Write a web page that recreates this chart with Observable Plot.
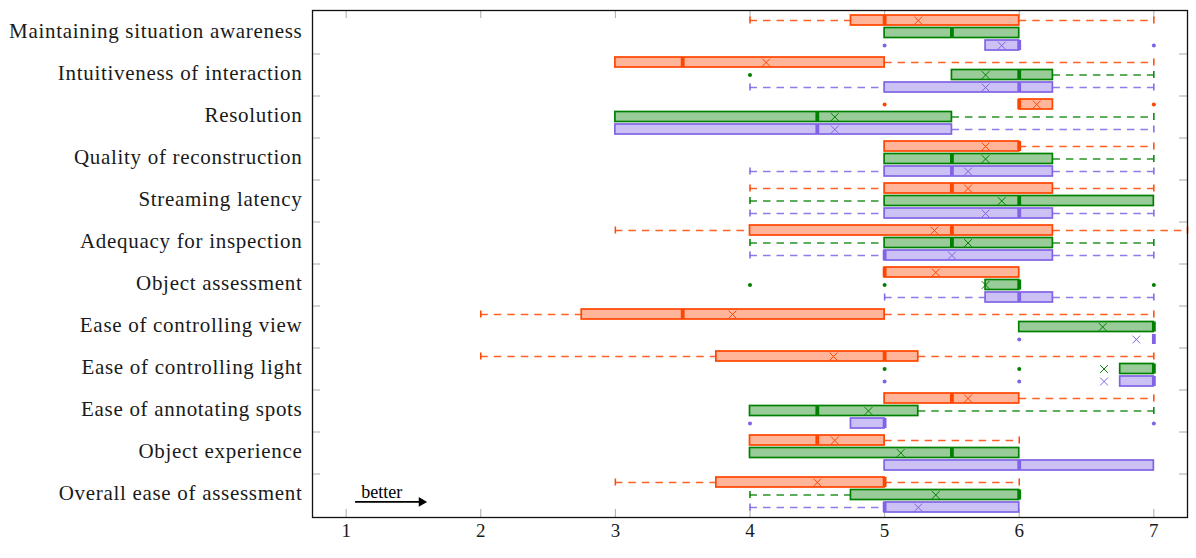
<!DOCTYPE html>
<html>
<head>
<meta charset="utf-8">
<script src="https://cdn.jsdelivr.net/npm/d3@7"></script>
<script src="https://cdn.jsdelivr.net/npm/@observablehq/plot@0.6"></script>
<style>
  html, body { margin: 0; padding: 0; background: #fff; }
  #chart svg { display: block; }
  #chart g[aria-label="y-axis tick label"] text { letter-spacing: 0.7px; }
</style>
</head>
<body>
<div id="chart"></div>
<script>
const categories = [
  "Maintaining situation awareness",
  "Intuitiveness of interaction",
  "Resolution",
  "Quality of reconstruction",
  "Streaming latency",
  "Adequacy for inspection",
  "Object assessment",
  "Ease of controlling view",
  "Ease of controlling light",
  "Ease of annotating spots",
  "Object experience",
  "Overall ease of assessment"
];

const seriesColors = ["#ff4500", "#008000", "#8063e6"];

// each row: [lower whisker, q1, median, q3, upper whisker, mean] (mean null = hidden under median)
const orangeStats = [
  [4, 4.75, 5, 6, 7, 5.25],
  [3, 3, 3.5, 5, 7, 4.12],
  [6, 6, 6, 6.25, 6.25, 6.13],
  [5, 5, 6, 6, 7, 5.75],
  [4, 5, 5.5, 6.25, 7, 5.62],
  [3, 4, 5.5, 6.25, 7.25, 5.37],
  [5, 5, 5, 6, 6, 5.38],
  [2, 2.75, 3.5, 5, 7, 3.87],
  [2, 3.75, 5, 5.25, 7, 4.62],
  [5, 5, 5.5, 6, 7, 5.62],
  [4, 4, 4.5, 5, 6, 4.63],
  [3, 3.75, 5, 5, 6, 4.5]
];
const greenStats = [
  [5, 5, 5.5, 6, 6, null],
  [5.5, 5.5, 6, 6.25, 7, 5.75],
  [3, 3, 4.5, 5.5, 7, 4.63],
  [5, 5, 5.5, 6.25, 7, 5.75],
  [4, 5, 6, 7, 7, 5.87],
  [4, 5, 5.5, 6.25, 7, 5.62],
  [5.75, 5.75, 6, 6, 6, 5.75],
  [6, 6, 7, 7, 7, 6.62],
  [6.75, 6.75, 7, 7, 7, 6.63],
  [4, 4, 4.5, 5.25, 7, 4.88],
  [4, 4, 5.5, 6, 6, 5.12],
  [4, 4.75, 6, 6, 6, 5.38]
];
const purpleStats = [
  [5.75, 5.75, 6, 6, 6, 5.87],
  [4, 5, 6, 6.25, 7, 5.75],
  [3, 3, 4.5, 5.5, 7, 4.63],
  [4, 5, 5.5, 6.25, 7, 5.62],
  [4, 5, 6, 6.25, 7, 5.75],
  [4, 5, 5, 6.25, 7, 5.5],
  [5, 5.75, 6, 6.25, 7, null],
  [7, 7, 7, 7, 7, 6.87],
  [6.75, 6.75, 7, 7, 7, 6.63],
  [4.75, 4.75, 5, 5, 5, null],
  [5, 5, 6, 7, 7, null],
  [4, 5, 5, 6, 6, 5.25]
];

// [category index, series index, value]
const outliers = [
  [0, 2, 5], [0, 2, 7],
  [1, 1, 4],
  [2, 0, 5], [2, 0, 7],
  [6, 1, 4], [6, 1, 5], [6, 1, 7],
  [7, 2, 6],
  [8, 1, 5], [8, 1, 6], [8, 2, 5], [8, 2, 6],
  [9, 2, 4], [9, 2, 7]
];

const xTicks = [1, 2, 3, 4, 5, 6, 7];
const annotationText = "better";
const annotationArrow = {from: 1.07, to: 1.56};

// ---- layout ----
const CAT = 3.36;         // category step in row units
const HALF = 0.4;         // half box height
const ENDH = 0.28;        // whisker end tick half height
const serif = "Liberation Serif, Times New Roman, serif";

const allStats = [orangeStats, greenStats, purpleStats];
const rows = [];
allStats.forEach((stats, s) => {
  stats.forEach((v, i) => {
    rows.push({cat: i, s, row: i * CAT + s, color: seriesColors[s],
      min: v[0], q1: v[1], median: v[2], q3: v[3], max: v[4], mean: v[5]});
  });
});
const lowW = rows.filter(d => d.min < d.q1);
const highW = rows.filter(d => d.max > d.q3);
const ends = [
  ...lowW.map(d => ({row: d.row, v: d.min, color: d.color})),
  ...highW.map(d => ({row: d.row, v: d.max, color: d.color}))
];
const means = rows.filter(d => d.mean != null);
const outRows = outliers.map(([c, s, v]) => ({row: c * CAT + s, v, color: seriesColors[s]}));

const centers = categories.map((_, i) => i * CAT + 1);
const boundaries = categories.slice(0, -1).map((_, i) => i * CAT + 2 + (CAT - 2) / 2);
const yMin = -0.8, yMax = (categories.length - 1) * CAT + 2 + 0.8;
const arrowY = yMax - 0.8 - 0.45;

const W = 1196, H = 558, mL = 312, mR = 9, mT = 10, mB = 41;
const innerW = W - mL - mR, innerH = H - mT - mB;
const tickLen = 8;

const plot = Plot.plot({
  width: W, height: H,
  marginLeft: mL, marginRight: mR, marginTop: mT, marginBottom: mB,
  style: {background: "#fff", color: "#1a1a1a"},
  color: {type: "identity"},
  x: {domain: [0.75, 7.25]},
  y: {domain: [yMin, yMax], reverse: true},
  marks: [
    // inward ticks
    Plot.tickX(xTicks, {x: d => d, insetTop: innerH - tickLen, stroke: "#aaa", strokeWidth: 1}),
    Plot.tickX(xTicks, {x: d => d, insetBottom: innerH - tickLen, stroke: "#aaa", strokeWidth: 1}),
    Plot.tickY(boundaries, {y: d => d, insetRight: innerW - tickLen, stroke: "#aaa", strokeWidth: 1}),
    Plot.tickY(boundaries, {y: d => d, insetLeft: innerW - tickLen, stroke: "#aaa", strokeWidth: 1}),
    // whiskers
    Plot.ruleY(lowW, {y: "row", x1: "min", x2: "q1", stroke: "color", strokeWidth: 1.6, strokeDasharray: "7.5,6", strokeOpacity: 0.85}),
    Plot.ruleY(highW, {y: "row", x1: "q3", x2: "max", stroke: "color", strokeWidth: 1.6, strokeDasharray: "7.5,6", strokeOpacity: 0.85}),
    Plot.ruleX(ends, {x: "v", y1: d => d.row - ENDH, y2: d => d.row + ENDH, stroke: "color", strokeWidth: 1.5}),
    // boxes
    Plot.rect(rows, {x1: "q1", x2: "q3", y1: d => d.row - HALF, y2: d => d.row + HALF,
      fill: "color", fillOpacity: 0.4, stroke: "color", strokeWidth: 1.7}),
    // medians
    Plot.ruleX(rows, {x: "median", y1: d => d.row - HALF, y2: d => d.row + HALF, stroke: "color", strokeWidth: 3.8}),
    // means
    Plot.dot(means, {x: "mean", y: "row", symbol: "times", r: 3.6, stroke: "color", strokeWidth: 1}),
    // outliers
    Plot.dot(outRows, {x: "v", y: "row", r: 2, fill: "color", stroke: null}),
    // annotation
    Plot.ruleY([annotationArrow], {x1: "from", x2: "to", y: arrowY, stroke: "#000", strokeWidth: 1.7}),
    Plot.dot([annotationArrow], {x: "to", y: arrowY, symbol: "triangle", rotate: 90, r: 3.6, fill: "#000", stroke: null}),
    Plot.text([annotationText], {x: (annotationArrow.from + annotationArrow.to) / 2 - 0.05, y: arrowY,
      text: d => d, dy: -10, fontSize: 18, fontFamily: serif, fill: "#000"}),
    Plot.frame({stroke: "#111", strokeWidth: 1.3}),
    Plot.axisX(xTicks, {tickSize: 0, tickPadding: 6, fontSize: 19, fontFamily: serif, label: null,
      tickFormat: d => String(d)}),
    Plot.axisY(centers, {tickSize: 0, tickPadding: 10, fontSize: 21, fontFamily: serif, label: null, dy: -2,
      tickFormat: d => categories[Math.round((d - 1) / CAT)]})
  ]
});
document.getElementById("chart").appendChild(plot);
</script>
</body>
</html>
